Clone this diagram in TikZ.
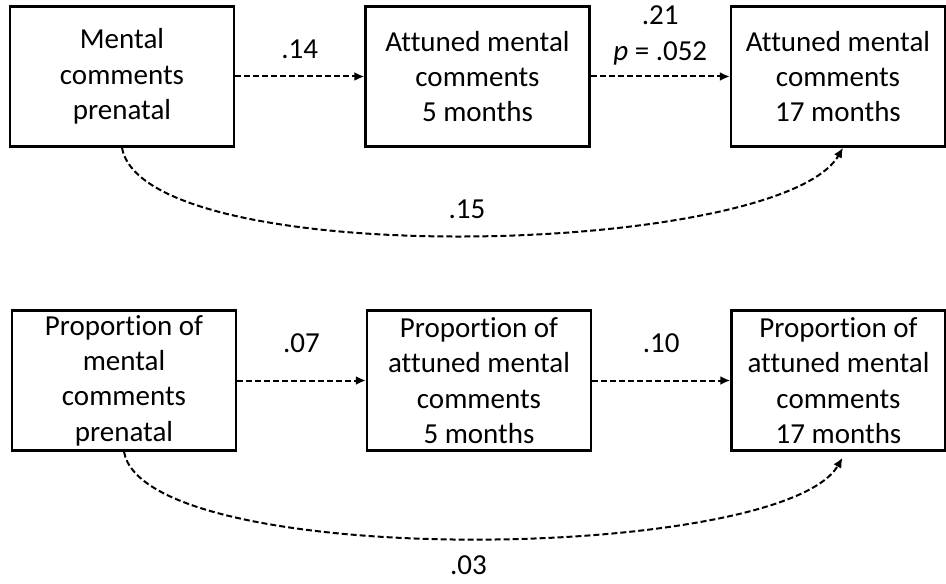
\documentclass[tikz,border=0pt]{standalone}
\usepackage{fontspec}
\setmainfont{Carlito}[Ligatures=NoCommon]
\usetikzlibrary{arrows.meta,positioning}

\tikzset{
    var/.style={draw, line width=1.2pt, minimum width=112pt, minimum height=70pt, align=center, inner sep=2pt},
    effect/.style={-{Latex[length=5pt,width=4.5pt]}, dash pattern=on 3pt off 1.5pt, line width=1pt},
    coef/.style={align=center}
}

\begin{document}
\begin{tikzpicture}[x=0.5pt, y=-0.5pt, font=\fontsize{14.5}{17.7}\selectfont]

    \useasboundingbox (0,0) rectangle (946,583);

    %raw counts
    \node[var] (ment) at (122,76.5) {Mental\\comments\\prenatal};
    \node[var] (attfive) at (477.5,76.5) {Attuned mental\\comments\\5 months};
    \node[var, minimum width=107pt] (attseventeen) at (838,76.5) {Attuned mental\\comments\\17 months};

    \draw [effect] (ment) -- node[coef, above=5pt] {.14} (attfive);
    \draw [effect] (attfive) -- node[coef, above=2pt] {.21\\\textit{p} = .052} (attseventeen);
    \draw [effect] (ment.south) to[out=-80, in=-120, looseness=0.45]
        node[coef, pos=0.5, above=4.5pt] {.15} ([xshift=2.5pt]attseventeen.south);

    %proportions
    \node[var] (propment) at (124,380.5) {Proportion of\\mental\\comments\\prenatal};
    \node[var] (propfive) at (479,380.5) {Proportion of\\attuned mental\\comments\\5 months};
    \node[var, minimum width=107pt] (propseventeen) at (838.5,380.5) {Proportion of\\attuned mental\\comments\\17 months};

    \draw [effect] (propment) -- node[coef, above=10pt] {.07} (propfive);
    \draw [effect] (propfive) -- node[coef, above=10pt] {.10} (propseventeen);
    \draw [effect] (propment.south) to[out=-80, in=-120, looseness=0.43]
        node[coef, pos=0.5, below=4.5pt] {.03} ([xshift=2pt, yshift=-3pt]propseventeen.south);

\end{tikzpicture}
\end{document}
